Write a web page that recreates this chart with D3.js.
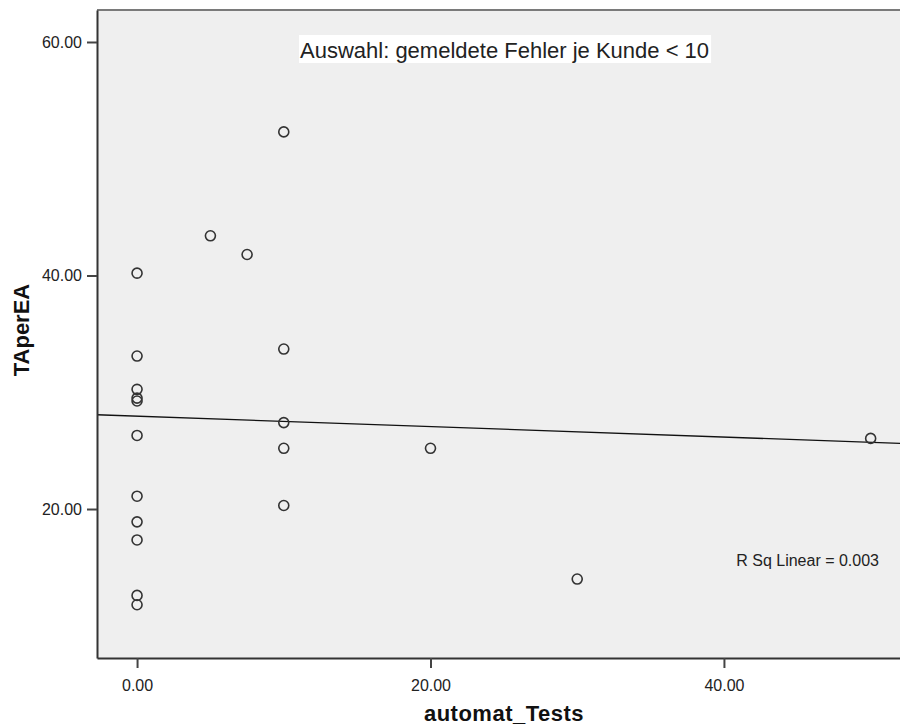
<!DOCTYPE html>
<html>
<head>
<meta charset="utf-8">
<script src="https://cdn.jsdelivr.net/npm/d3@7"></script>
<style>
  html, body { margin: 0; padding: 0; background: #ffffff; }
  svg { display: block; font-family: "Liberation Sans", Arial, sans-serif; }
</style>
</head>
<body>
<svg id="chart" width="900" height="727"></svg>
<script>
// ---- data ----
const automatTests = [0, 0, 0, 0, 0, 0, 0, 0, 0, 0, 0, 5, 7.5, 10, 10, 10, 10, 10, 20, 30, 50];
const tAperEA     = [40.2, 33.1, 30.25, 29.5, 29.25, 26.3, 21.1, 18.9, 17.35, 12.6, 11.8,
                     43.4, 41.8, 52.3, 33.7, 27.4, 25.2, 20.3, 25.2, 14.0, 26.05];
const xTicks = [0, 20, 40];
const yTicks = [20, 40, 60];
const titleText = "Auswahl: gemeldete Fehler je Kunde < 10";
const rSqText = "R Sq Linear = 0.003";
const xLabel = "automat_Tests";
const yLabel = "TAperEA";

const points = automatTests.map((x, i) => ({ x, y: tAperEA[i] }));

// ---- layout ----
const svg = d3.select("#chart");
const pLeft = 97, pRight = 900, pTop = 10, pBottom = 658;

const x = d3.scaleLinear().domain([-2.73, 52.0]).range([pLeft, pRight]);
const y = d3.scaleLinear().domain([7.24, 62.74]).range([pBottom, pTop]);

// plot background
svg.append("rect")
  .attr("x", pLeft).attr("y", pTop)
  .attr("width", pRight - pLeft).attr("height", pBottom - pTop)
  .attr("fill", "#efefef");

// top border
svg.append("line")
  .attr("x1", pLeft).attr("x2", pRight)
  .attr("y1", pTop).attr("y2", pTop)
  .attr("stroke", "#7a7a7a").attr("stroke-width", 2);

// clip for the fit line
svg.append("clipPath").attr("id", "plotclip")
  .append("rect").attr("x", pLeft).attr("y", pTop)
  .attr("width", pRight - pLeft).attr("height", pBottom - pTop);

// linear regression fit, computed from the data
const mx = d3.mean(points, d => d.x), my = d3.mean(points, d => d.y);
const sxy = d3.sum(points, d => (d.x - mx) * (d.y - my));
const sxx = d3.sum(points, d => (d.x - mx) * (d.x - mx));
const slope = sxy / sxx, intercept = my - slope * mx;
const xd = x.domain();
svg.append("line")
  .attr("clip-path", "url(#plotclip)")
  .attr("x1", x(xd[0])).attr("y1", y(intercept + slope * xd[0]))
  .attr("x2", x(xd[1])).attr("y2", y(intercept + slope * xd[1]))
  .attr("stroke", "#111").attr("stroke-width", 1.3);

// points
svg.append("g").selectAll("circle")
  .data(points).join("circle")
  .attr("cx", d => x(d.x)).attr("cy", d => y(d.y))
  .attr("r", 5)
  .attr("fill", "none")
  .attr("stroke", "#333")
  .attr("stroke-width", 1.6);

// axes
const fmt = d3.format(".2f");
const xAxis = svg.append("g")
  .attr("transform", `translate(0,${pBottom})`)
  .call(d3.axisBottom(x).tickValues(xTicks).tickFormat(fmt).tickSize(10).tickSizeOuter(0).tickPadding(5));
const yAxis = svg.append("g")
  .attr("transform", `translate(${pLeft},0)`)
  .call(d3.axisLeft(y).tickValues(yTicks).tickFormat(fmt).tickSize(10).tickSizeOuter(0).tickPadding(5));

[xAxis, yAxis].forEach(g => {
  g.select(".domain").attr("stroke", "#333").attr("stroke-width", 2);
  g.selectAll(".tick line").attr("stroke", "#444").attr("stroke-width", 2);
  g.selectAll(".tick text")
    .attr("fill", "#222")
    .style("font-family", "'Liberation Sans', Arial, sans-serif")
    .style("font-size", "16px");
});
xAxis.selectAll(".tick text").attr("dy", "1.15em");

// title box
const titleG = svg.append("g");
const titleBox = titleG.append("rect").attr("fill", "#ffffff");
const title = titleG.append("text")
  .attr("x", 300).attr("y", 58)
  .attr("fill", "#222")
  .style("font-size", "22px")
  .text(titleText);
const bb = title.node().getBBox();
titleBox
  .attr("x", bb.x - 1).attr("y", 35)
  .attr("width", bb.width + 3).attr("height", 28);

// R squared label
svg.append("text")
  .attr("x", 879).attr("y", 566)
  .attr("text-anchor", "end")
  .attr("fill", "#222")
  .style("font-size", "16px")
  .text(rSqText);

// axis titles
svg.append("text")
  .attr("x", 504).attr("y", 721)
  .attr("text-anchor", "middle")
  .attr("fill", "#111")
  .style("font-size", "22px")
  .style("font-weight", "bold")
  .style("letter-spacing", "0.5px")
  .text(xLabel);

svg.append("text")
  .attr("transform", "translate(29,330) rotate(-90)")
  .attr("text-anchor", "middle")
  .attr("fill", "#111")
  .style("font-size", "22px")
  .style("font-weight", "bold")
  .text(yLabel);
</script>
</body>
</html>
